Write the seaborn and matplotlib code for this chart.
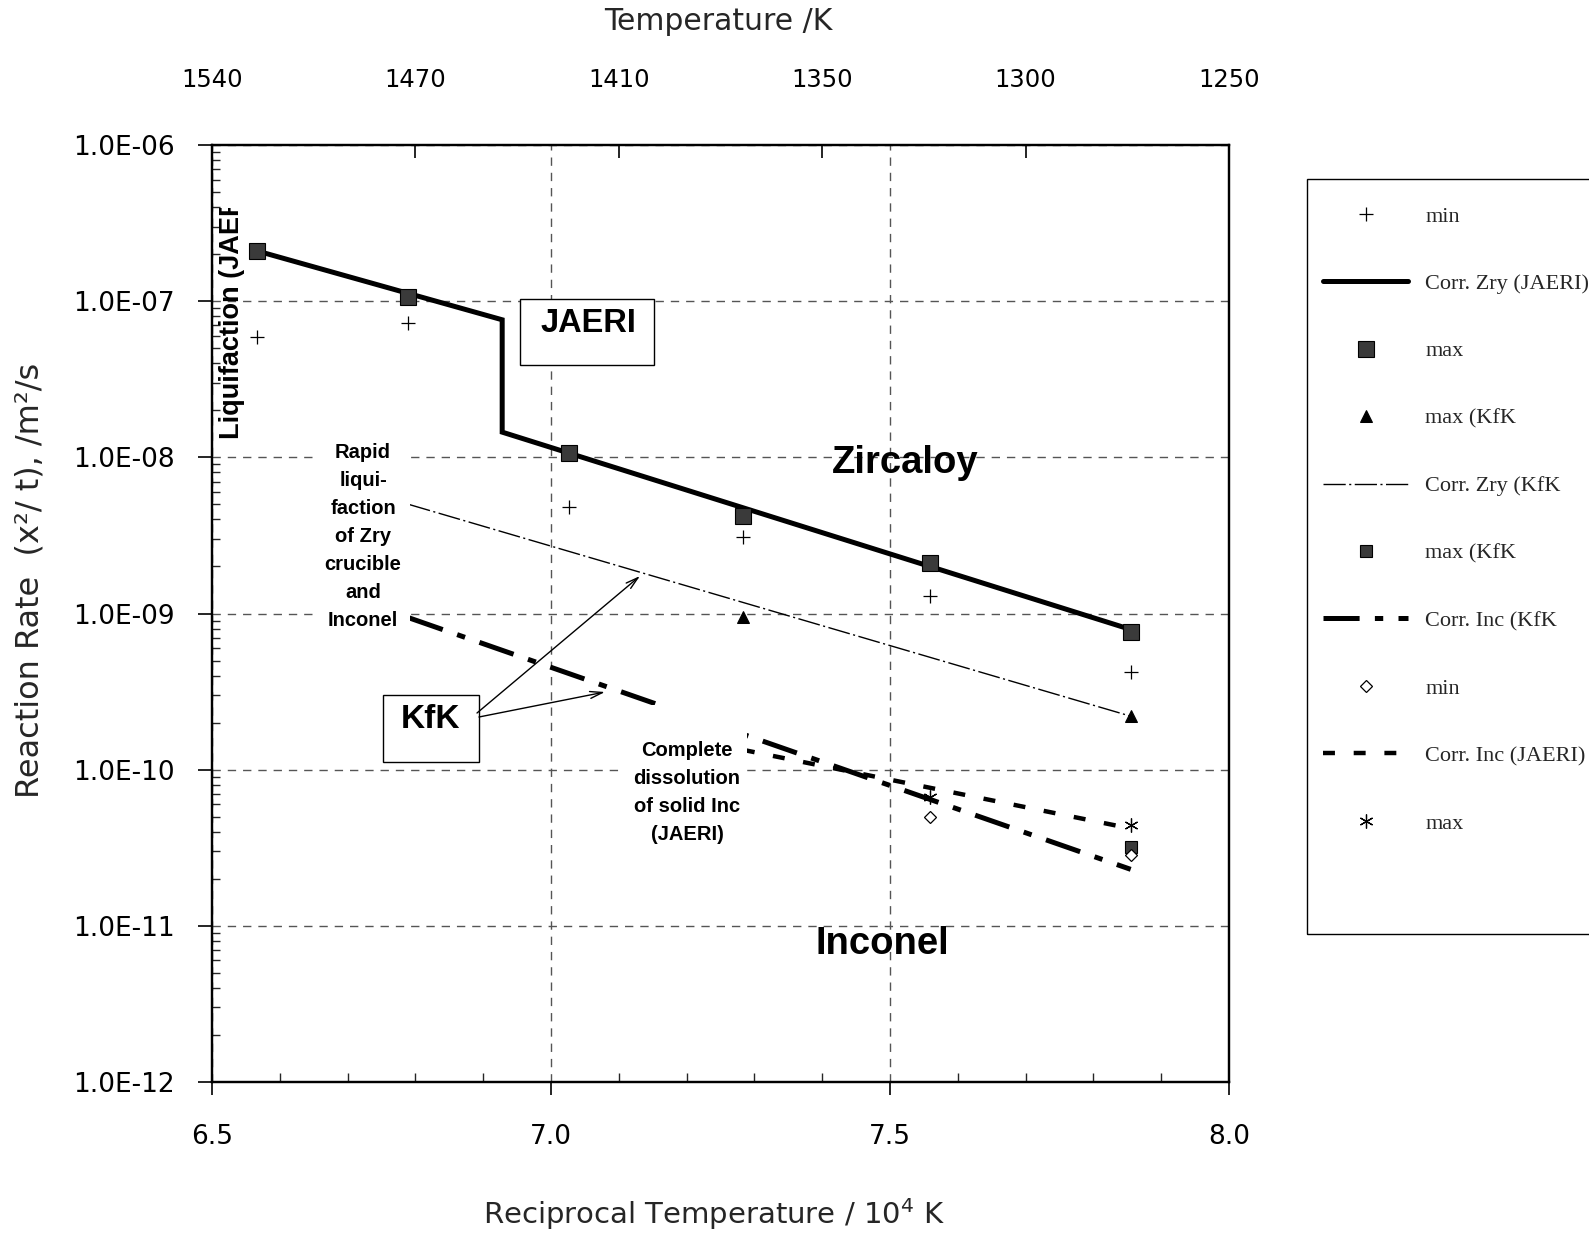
import numpy as np
import pandas as pd
import matplotlib
matplotlib.use("Agg")
import matplotlib.pyplot as plt
import seaborn as sns
from matplotlib.patches import Rectangle
from matplotlib.transforms import Bbox, TransformedBbox
from matplotlib.ticker import FixedLocator, FuncFormatter, LogLocator, NullFormatter, MultipleLocator
from matplotlib.font_manager import FontProperties

# ---------------- data ----------------
x_cols = [6.566, 6.789, 7.027, 7.283, 7.559, 7.855]
zry_jaeri_min = [5.9e-8, 7.25e-8, 4.8e-9, 3.1e-9, 1.3e-9, 4.2e-10]
zry_jaeri_max = [2.1e-7, 1.06e-7, 1.07e-8, 4.2e-9, 2.1e-9, 7.6e-10]

corr_zry_jaeri_x = [6.566, 6.928, 6.928, 7.855]
corr_zry_jaeri_y = [2.1e-7, 7.6e-8, 1.45e-8, 7.9e-10]

kfk_tri_x = [7.283, 7.855]
kfk_tri_y = [9.5e-10, 2.2e-10]

corr_zry_kfk_x = [6.79, 7.855]
corr_zry_kfk_y = [5.0e-9, 2.2e-10]

kfk_sq_x = [7.855]
kfk_sq_y = [3.2e-11]

corr_inc_kfk_x = [6.79, 7.855]
corr_inc_kfk_y = [9.4e-10, 2.3e-11]

inc_min_x = [7.559, 7.855]
inc_min_y = [5.0e-11, 2.85e-11]

corr_inc_jaeri_x = [7.283, 7.855]
corr_inc_jaeri_y = [1.34e-10, 4.2e-11]

inc_max_x = [7.559, 7.855]
inc_max_y = [6.7e-11, 4.4e-11]

top_tick_pos = [6.5, 6.8, 7.1, 7.4, 7.7, 8.0]
top_tick_labels = ["1540", "1470", "1410", "1350", "1300", "1250"]

legend_labels = ["min", "Corr. Zry (JAERI)", "max", "max (KfK", "Corr. Zry (KfK",
                 "max (KfK", "Corr. Inc (KfK", "min", "Corr. Inc (JAERI)", "max"]

# ---------------- style ----------------
sns.set_style("ticks")
plt.rcParams["font.family"] = ["DejaVu Sans"]
plt.rcParams["lines.scale_dashes"] = False
plt.rcParams["axes.edgecolor"] = "black"
plt.rcParams["axes.linewidth"] = 1.6

W, H = 1589, 1236
fig = plt.figure(figsize=(W / 100, H / 100), dpi=100)
L, R, T, B = 212, 1229, 145, 1082
ax = fig.add_axes([L / W, 1 - B / H, (R - L) / W, (B - T) / H])


def axx(px):
    return (px - L) / (R - L)


def axy(py):
    return (B - py) / (B - T)


def draw(x, y, **kw):
    sns.lineplot(x=x, y=y, ax=ax, estimator=None, sort=False, legend=False, **kw)
    return ax.lines[-1]


h_min = draw(x_cols, zry_jaeri_min, color="black", marker="+", markersize=10,
             markeredgewidth=0.9, markeredgecolor="black", zorder=3)
h_min.set_linestyle("None")

h_czj = draw(corr_zry_jaeri_x, corr_zry_jaeri_y, color="black", lw=3.6, zorder=2)
h_czj.set_solid_joinstyle("miter")

h_max = draw(x_cols, zry_jaeri_max, color="black", marker="s", markersize=12,
             markerfacecolor="#3a3a3a", markeredgecolor="black", markeredgewidth=0.8, zorder=3)
h_max.set_linestyle("None")

h_tri = draw(kfk_tri_x, kfk_tri_y, color="black", marker="^", markersize=9,
             markerfacecolor="black", markeredgecolor="black", zorder=3)
h_tri.set_linestyle("None")

h_czk = draw(corr_zry_kfk_x, corr_zry_kfk_y, color="black", lw=1.0, zorder=2)
h_czk.set_dashes([16, 2.5, 1.5, 2.5])

h_ksq = draw(kfk_sq_x, kfk_sq_y, color="black", marker="s", markersize=8,
             markerfacecolor="#3a3a3a", markeredgecolor="black", markeredgewidth=0.8, zorder=3)
h_ksq.set_linestyle("None")

h_cik = draw(corr_inc_kfk_x, corr_inc_kfk_y, color="black", lw=3.6, zorder=2)
h_cik.set_dashes([26, 11, 6, 11])
h_cik.set_dash_capstyle("butt")

h_dmin = draw(inc_min_x, inc_min_y, color="black", marker="D", markersize=6.5,
              markerfacecolor="white", markeredgecolor="black", markeredgewidth=0.9, zorder=3)
h_dmin.set_linestyle("None")

h_cij = draw(corr_inc_jaeri_x, corr_inc_jaeri_y, color="black", lw=3.2, zorder=2)
h_cij.set_dashes([8.6, 13.5])
h_cij.set_dash_capstyle("butt")

h_ast = draw(inc_max_x, inc_max_y, color="black", marker=(6, 2, 0), markersize=10,
             markeredgewidth=0.9, markeredgecolor="black", zorder=3)
h_ast.set_linestyle("None")

# ---------------- axes ----------------
ax.set_yscale("log")
ax.set_xlim(6.5, 8.0)
ax.set_ylim(1e-12, 1e-6)
ax.set_xlabel("")
ax.set_ylabel("")
ax.xaxis.set_major_locator(FixedLocator([6.5, 7.0, 7.5, 8.0]))
ax.xaxis.set_minor_locator(MultipleLocator(0.1))
ax.xaxis.set_major_formatter(FuncFormatter(lambda v, p: f"{v:.1f}"))
ax.yaxis.set_major_locator(LogLocator(base=10, numticks=20))
ax.yaxis.set_minor_locator(LogLocator(base=10, subs=np.arange(2, 10), numticks=20))
ax.yaxis.set_minor_formatter(NullFormatter())
ax.yaxis.set_major_formatter(FuncFormatter(lambda v, p: f"{v:.1E}"))
for s in ax.spines.values():
    s.set_visible(True)
    s.set_color("black")
    s.set_linewidth(1.6)

ax.tick_params(axis="x", which="major", direction="out", length=9, width=1.2,
               labelsize=19, pad=21, colors="black", top=False)
ax.tick_params(axis="x", which="minor", direction="in", length=6.5, width=1.0,
               top=False, bottom=True)
ax.tick_params(axis="y", which="major", direction="out", length=10, width=1.2,
               labelsize=19, pad=17, colors="black", right=False)
ax.tick_params(axis="y", which="minor", direction="in", length=6, width=1.0, right=False)

ax.grid(True, which="major", axis="both", color="#555555", lw=1.0, ls=(0, (6, 5)))
ax.set_axisbelow(True)

ax2 = ax.twiny()
ax2.set_xlim(6.5, 8.0)
ax2.xaxis.set_major_locator(FixedLocator(top_tick_pos))
ax2.set_xticklabels(top_tick_labels)
ax2.tick_params(axis="x", which="major", direction="in", length=9.5, width=1.2,
                labelsize=17.5, pad=38, colors="black")
ax2.grid(False)
ax2.spines["top"].set_linewidth(1.6)

# ---------------- labels ----------------
fig.text(718 / W, 1 - 22 / H, "Temperature /K", ha="center", va="center", fontsize=21.5)
fig.text(714 / W, 1 - 1214 / H, "Reciprocal Temperature / 10$^{4}$ K",
         ha="center", va="center", fontsize=21)
fig.text(30 / W, 1 - 580 / H, "Reaction Rate  (x²/ t), /m²/s", ha="center", va="center",
         rotation=90, fontsize=23)

# ---------------- annotations ----------------
bold = dict(family=["Liberation Sans", "DejaVu Sans"], weight="bold", color="black")

ax.text(axx(905), axy(463), "Zircaloy", transform=ax.transAxes, ha="center", va="center",
        fontsize=27.5, zorder=6, **bold)
ax.text(axx(882), axy(944), "Inconel", transform=ax.transAxes, ha="center", va="center",
        fontsize=27.5, zorder=6, **bold)

# JAERI box
ax.add_patch(Rectangle((axx(520), axy(365)), axx(654) - axx(520), axy(299) - axy(365),
                       transform=ax.transAxes, facecolor="white", edgecolor="black",
                       lw=1.0, zorder=5))
ax.text(axx(588), axy(324), "JAERI", transform=ax.transAxes, ha="center", va="center",
        fontsize=23.5, zorder=6, **bold)

# KfK box
ax.add_patch(Rectangle((axx(383), axy(762)), axx(479) - axx(383), axy(695) - axy(762),
                       transform=ax.transAxes, facecolor="white", edgecolor="black",
                       lw=1.0, zorder=5))
ax.text(axx(430), axy(720), "KfK", transform=ax.transAxes, ha="center", va="center",
        fontsize=24, zorder=6, **bold)

# arrows from KfK box
ax.annotate("", xy=(axx(640), axy(576)), xytext=(axx(477), axy(713)),
            xycoords=ax.transAxes, textcoords=ax.transAxes,
            arrowprops=dict(arrowstyle="->,head_length=0.9,head_width=0.25", lw=1.0,
                            color="black", shrinkA=0, shrinkB=0), zorder=6)
ax.annotate("", xy=(axx(605), axy(692)), xytext=(axx(479), axy(717)),
            xycoords=ax.transAxes, textcoords=ax.transAxes,
            arrowprops=dict(arrowstyle="->,head_length=0.9,head_width=0.25", lw=1.0,
                            color="black", shrinkA=0, shrinkB=0), zorder=6)

# Rapid liquifaction note (white background)
ax.add_patch(Rectangle((axx(317), axy(635)), axx(410) - axx(317), axy(440) - axy(635),
                       transform=ax.transAxes, facecolor="white", edgecolor="none", zorder=4))
ax.text(axx(363), axy(536), "Rapid\nliqui-\nfaction\nof Zry\ncrucible\nand\nInconel",
        transform=ax.transAxes, ha="center", va="center", fontsize=14.5, linespacing=1.6,
        zorder=6, **bold)

# Complete dissolution note
ax.add_patch(Rectangle((axx(623), axy(840)), axx(747) - axx(623), axy(705) - axy(840),
                       transform=ax.transAxes, facecolor="white", edgecolor="none", zorder=4))
ax.text(axx(687), axy(792), "Complete\ndissolution\nof solid Inc\n(JAERI)",
        transform=ax.transAxes, ha="center", va="center", fontsize=14.5, linespacing=1.6,
        zorder=6, **bold)

# Liquifaction (clipped at top)
t = ax.text(axx(232), axy(439), "Liquifaction (JAERI)", transform=ax.transAxes,
            ha="center", va="bottom", rotation=90, fontsize=19.5, zorder=6, **bold)
t.set_clip_on(True)
t.set_clip_box(TransformedBbox(Bbox([[0, 0], [1, axy(208)]]), ax.transAxes))

# ---------------- legend ----------------
handles = [h_min, h_czj, h_max, h_tri, h_czk, h_ksq, h_cik, h_dmin, h_cij, h_ast]
fs = 16
fig.legend(handles, legend_labels, loc="upper left",
           bbox_to_anchor=(1323 / W, 1 - 206 / H), bbox_transform=fig.transFigure,
           frameon=False, borderpad=0, borderaxespad=0, handlelength=3.83,
           handletextpad=0.77, labelspacing=2.11, numpoints=1,
           prop=FontProperties(family=["Liberation Serif", "DejaVu Serif"], size=fs))
fig.add_artist(Rectangle((1307 / W, 1 - 934 / H), (1620 - 1307) / W, (934 - 179) / H,
                         transform=fig.transFigure, fill=False, edgecolor="black", lw=1.0))

fig.savefig("out.png", dpi=100)
